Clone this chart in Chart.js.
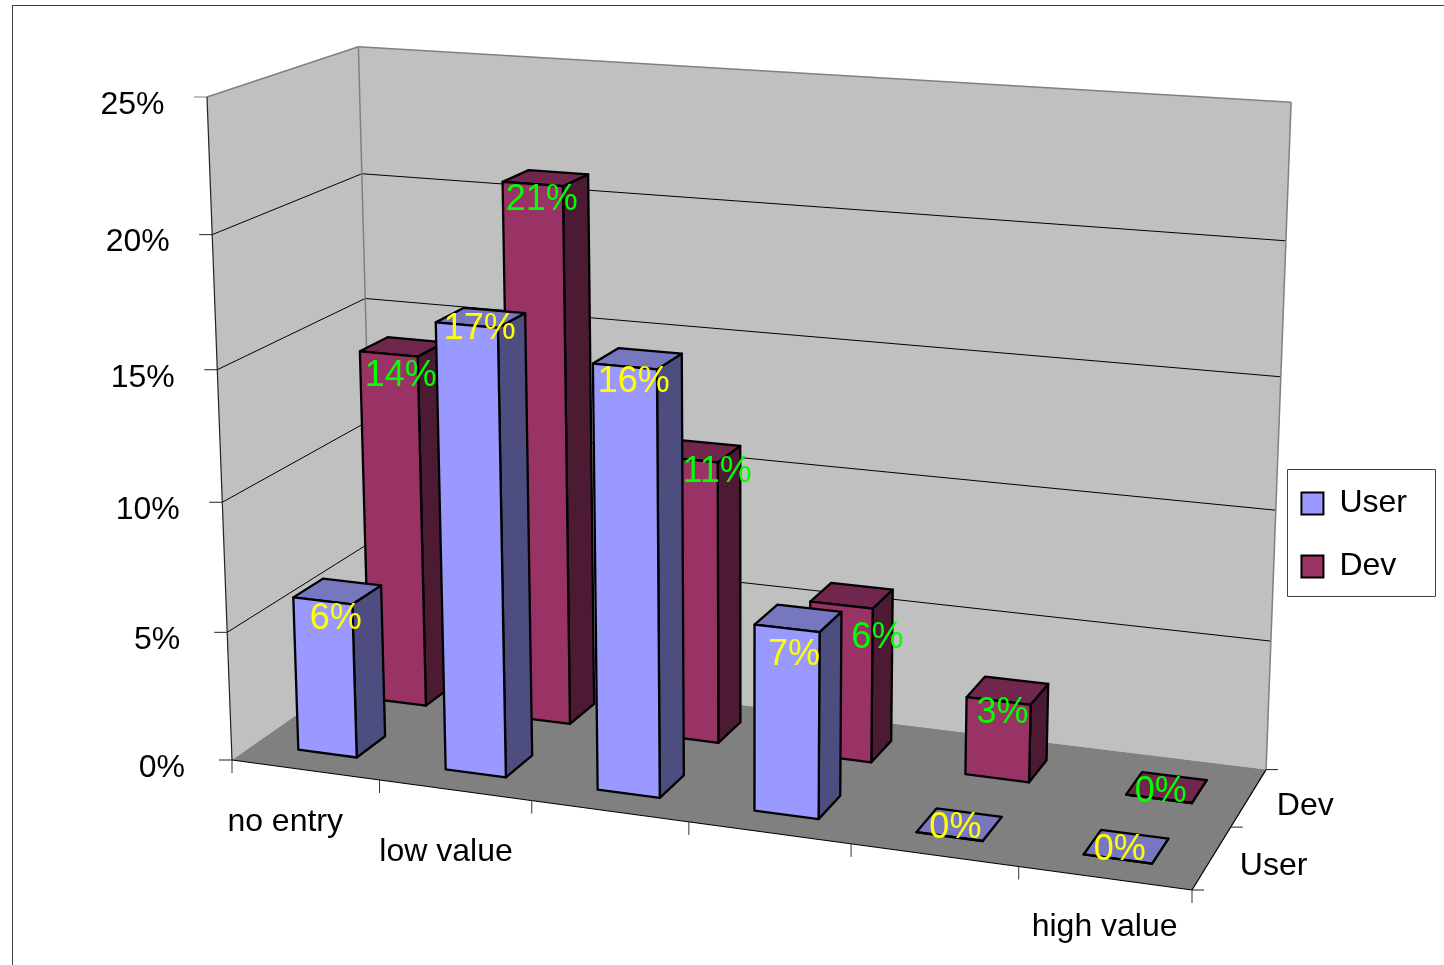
<!DOCTYPE html>
<html>
<head>
<meta charset="utf-8">
<title>User and Dev value ratings</title>
<style>
  html, body { margin: 0; padding: 0; background: #fff; }
  canvas { display: block; }
</style>
<script src="https://cdn.jsdelivr.net/npm/chart.js@4/dist/chart.umd.min.js"></script>
</head>
<body>
<canvas id="chart-1" width="1444" height="965"></canvas>
<script>
const categories = ['no entry', 'low value', '', '', '', 'high value'];
const seriesNames = ['User', 'Dev'];
const userValues = [6, 17, 16, 7, 0, 0];
const devValues = [14, 21, 11, 6, 3, 0];
const yTickStep = 5;
const yMax = 25;

const FONT = '32px "Liberation Sans", Arial, sans-serif';
const LABEL_FONT = '36px "Liberation Sans", Arial, sans-serif';

// box corners of the plot in canvas pixels, plus the perspective weights per axis
const O = [232, 760], U = [1192, 890], V = [207, 97], D = [375, 660];
const wU = -0.092, wV = -0.046, wD = 0.085;

// colours per series: front, side, top, label
const faces = [
  { front: '#9999ff', side: '#4d4d80', top: '#7777bf', text: '#ffff00' },
  { front: '#993366', side: '#4d1a33', top: '#70264d', text: '#00ff00' }
];

// bars take 40% of their slot (gap width 150)
const barFrac = 0.4;

// how far each data label sits from the middle of its bar's front top edge
const labelShift = [
  [[13, 18], [13, 4], [9, 16], [7, 27], [6, -8], [2, -9]],
  [[12, 22], [9, 16], [30, 13], [36, 33], [4, 12], [2, -7]]
];
const xLabelShift = [[-20, 52], [-9, 62], null, null, null, [0, 49]];

function project(u, v, d) {
  const w = 1 + wU * u + wV * v + wD * d;
  const f = (i) => (O[i]
    + u * (U[i] * (1 + wU) - O[i])
    + v * (V[i] * (1 + wV) - O[i])
    + d * (D[i] * (1 + wD) - O[i])) / w;
  return [f(0), f(1)];
}

function poly(ctx, pts, fill, stroke, lw) {
  ctx.beginPath();
  pts.forEach((p, i) => i ? ctx.lineTo(p[0], p[1]) : ctx.moveTo(p[0], p[1]));
  ctx.closePath();
  if (fill) { ctx.fillStyle = fill; ctx.fill(); }
  if (stroke) { ctx.strokeStyle = stroke; ctx.lineWidth = lw; ctx.stroke(); }
}

function line(ctx, a, b, color, lw) {
  ctx.beginPath();
  ctx.moveTo(a[0], a[1]);
  ctx.lineTo(b[0], b[1]);
  ctx.strokeStyle = color;
  ctx.lineWidth = lw || 1;
  ctx.stroke();
}

function text(ctx, str, x, y, color, font, align) {
  ctx.font = font;
  ctx.fillStyle = color;
  ctx.textAlign = align || 'left';
  ctx.textBaseline = 'middle';
  ctx.fillText(str, x, y);
}

// scale helpers: pixel position on each scale turned into 0..1 along the box edge
function axes(chart) {
  const area = chart.chartArea;
  const { x, y, depth } = chart.scales;
  const band = x.getPixelForValue(1) - x.getPixelForValue(0);
  const row = depth.getPixelForValue(1) - depth.getPixelForValue(0);
  return {
    u: (c, off) => (x.getPixelForValue(c) + off * band - area.left) / area.width,
    v: (val) => (area.bottom - y.getPixelForValue(val)) / area.height,
    d: (s, off) => (depth.getPixelForValue(s) + off * row - area.left) / area.width
  };
}

function drawBox(ctx, a, s, c, val) {
  const u0 = a.u(c, -barFrac / 2), u1 = a.u(c, barFrac / 2);
  const d0 = a.d(s, -barFrac / 2), d1 = a.d(s, barFrac / 2);
  const v = a.v(val);
  const col = faces[s];
  poly(ctx, [project(u1, 0, d0), project(u1, 0, d1), project(u1, v, d1), project(u1, v, d0)], col.side, '#000', 2.3);
  poly(ctx, [project(u0, v, d0), project(u1, v, d0), project(u1, v, d1), project(u0, v, d1)], col.top, '#000', 2.3);
  poly(ctx, [project(u0, 0, d0), project(u1, 0, d0), project(u1, v, d0), project(u0, v, d0)], col.front, '#000', 2.3);
}

const walls = {
  id: 'walls',
  beforeDatasetsDraw(chart) {
    const ctx = chart.ctx;
    const a = axes(chart);
    ctx.save();
    ctx.lineJoin = 'round';

    // outer frame, its right and bottom sides run off the page
    line(ctx, [12.5, 965], [12.5, 5.5], '#404040');
    line(ctx, [12, 5.5], [1444, 5.5], '#404040');

    poly(ctx, [project(0, 0, 0), project(0, 1, 0), project(0, 1, 1), project(0, 0, 1)], '#c0c0c0');
    poly(ctx, [project(0, 0, 1), project(0, 1, 1), project(1, 1, 1), project(1, 0, 1)], '#c0c0c0');
    poly(ctx, [project(0, 0, 0), project(1, 0, 0), project(1, 0, 1), project(0, 0, 1)], '#808080');

    // gridlines and value ticks
    chart.scales.y.ticks.forEach((t) => {
      const v = a.v(t.value);
      const p0 = project(0, v, 0), p1 = project(0, v, 1), p2 = project(1, v, 1);
      if (t.value > 0 && t.value < yMax) {
        line(ctx, p0, p1, '#000');
        line(ctx, p1, p2, '#000');
      }
      line(ctx, [p0[0] - 13, p0[1]], p0, t.value === yMax ? '#808080' : '#222');
      text(ctx, t.label, p0[0] - (t.value < 10 ? 47 : 42.5), p0[1] + 8, '#000', FONT, 'right');
    });

    line(ctx, project(0, 1, 0), project(0, 1, 1), '#808080', 1.5);
    line(ctx, project(0, 1, 1), project(1, 1, 1), '#808080', 1.5);
    line(ctx, project(0, 0, 1), project(0, 1, 1), '#808080', 1.5);
    line(ctx, project(1, 0, 1), project(1, 1, 1), '#808080', 1.5);
    line(ctx, project(0, 0, 0), project(0, 1, 0), '#222', 1.2);
    line(ctx, project(0, 0, 0), project(1, 0, 0), '#000', 1.2);
    line(ctx, project(1, 0, 0), project(1, 0, 1), '#000', 1.2);

    // category ticks and labels
    for (let i = 0; i <= categories.length; i++) {
      const p = project(a.u(i - 0.5, 0), 0, 0);
      line(ctx, p, [p[0], p[1] + 13], '#333');
    }
    categories.forEach((name, i) => {
      if (!name) return;
      const p = project(a.u(i, 0), 0, 0);
      text(ctx, name, p[0] + xLabelShift[i][0], p[1] + xLabelShift[i][1], '#000', FONT, 'center');
    });

    // depth ticks and series names
    for (let s = 0; s <= seriesNames.length; s++) {
      const p = project(1, 0, a.d(s - 0.5, 0));
      line(ctx, p, [p[0] + 12, p[1]], '#222');
    }
    seriesNames.forEach((name, s) => {
      const p = project(1, 0, a.d(s, 0));
      text(ctx, name, p[0] + 28, p[1] + 8, '#000', FONT);
    });

    // Dev row stands behind the User row, labels go over everything
    for (let s = chart.data.datasets.length - 1; s >= 0; s--) {
      chart.data.datasets[s].data.forEach((val, c) => drawBox(ctx, a, s, c, val));
    }
    for (let s = chart.data.datasets.length - 1; s >= 0; s--) {
      chart.data.datasets[s].data.forEach((val, c) => {
        const p = project(a.u(c, 0), a.v(val), a.d(s, -barFrac / 2));
        const shift = labelShift[s][c];
        text(ctx, val + '%', p[0] + shift[0], p[1] + shift[1], faces[s].text, LABEL_FONT, 'center');
      });
    }

    // frame round the legend
    ctx.strokeStyle = '#404040';
    ctx.lineWidth = 1;
    ctx.strokeRect(1287.5, 469.5, 148, 127);
    ctx.restore();
    return false; // the boxes above replace the flat bars
  }
};

new Chart(document.getElementById('chart-1').getContext('2d'), {
  type: 'bar',
  data: {
    labels: categories,
    datasets: [
      { label: seriesNames[0], data: userValues, backgroundColor: faces[0].front, borderColor: '#000', borderWidth: 2 },
      { label: seriesNames[1], data: devValues, backgroundColor: faces[1].front, borderColor: '#000', borderWidth: 2 }
    ]
  },
  options: {
    responsive: false,
    animation: false,
    layout: { padding: { top: 105, right: 27 } },
    scales: {
      x: { display: false, offset: true },
      depth: { type: 'category', axis: 'x', labels: seriesNames, offset: true, display: false },
      y: {
        display: false,
        min: 0,
        max: yMax,
        ticks: { stepSize: yTickStep, callback: (v) => v + '%' }
      }
    },
    plugins: {
      tooltip: { enabled: false },
      legend: {
        position: 'right',
        labels: {
          color: '#000',
          font: { family: '"Liberation Sans", Arial, sans-serif', size: 32 },
          boxWidth: 22,
          boxHeight: 22,
          padding: 31
        }
      }
    }
  },
  plugins: [walls]
});
</script>
</body>
</html>
